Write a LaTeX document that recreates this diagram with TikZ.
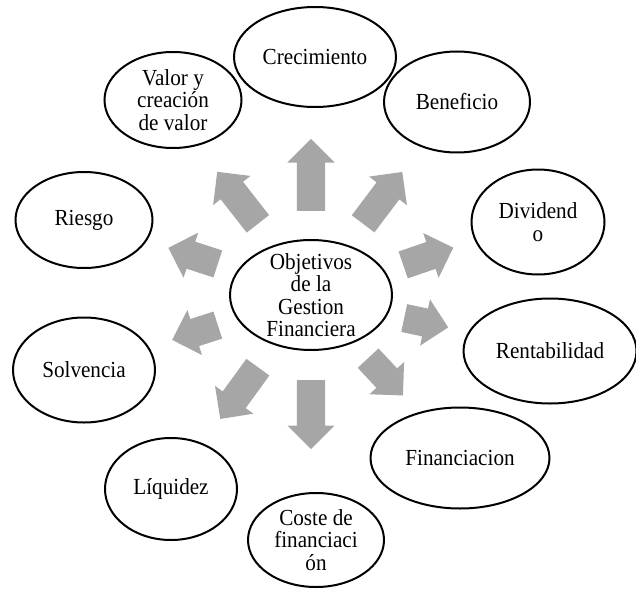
\documentclass[tikz,border=0pt]{standalone}
\usepackage{fontspec}
\setmainfont{Liberation Serif}[FakeStretch=0.92]
\usetikzlibrary{shapes.geometric,shapes.arrows}
\definecolor{gris}{HTML}{A6A6A6}

\begin{document}
\begin{tikzpicture}[x=1pt, y=-1pt,
  elipse/.style 2 args={ellipse, draw, line width=2pt, inner sep=0pt, minimum width=#1, minimum height=#2},
  texto/.style={align=center, font=\fontsize{23}{22.5}\selectfont},
  bloque/.style={single arrow, fill=gris, inner xsep=0pt, inner ysep=14pt, anchor=tail,
    single arrow head extend=9.5pt, single arrow tip angle=90}]
  \useasboundingbox (0,0) rectangle (636,588);
  % objetivo central
  \node[elipse={162}{110}, label={[texto]center:Objetivos\\de la\\Gestion\\Financiera}] (obj) at (311,295) {};
  % objetivos alrededor
  \node[elipse={162}{100}, label={[texto]center:Crecimiento}] (crec) at (315,57) {};
  \node[elipse={146}{101}, label={[texto]center:Beneficio}] (bene) at (457,102) {};
  \node[elipse={133}{105}, label={[texto]center:Dividend\\o}] (divi) at (538,222) {};
  \node[elipse={173}{105}, label={[texto]center:Rentabilidad}] (rent) at (550,351) {};
  \node[elipse={179}{101}, label={[texto]center:Financiacion}] (fina) at (460,458) {};
  \node[elipse={136}{94}, label={[texto]center:Coste de\\financiaci\\ón}] (cost) at (316,540) {};
  \node[elipse={132}{102}, label={[texto]center:Líquidez}] (liqu) at (171,489) {};
  \node[elipse={142}{105}, label={[texto]center:Solvencia}] (solv) at (84,370) {};
  \node[elipse={137}{96}, label={[texto]center:Riesgo}] (ries) at (84,220) {};
  \node[elipse={137}{96}, label={[texto]center:Valor y\\creación\\de valor}] (valo) at (173,100) {};
  % flechas grises (desde la base)
  \foreach \n/\x/\y/\a/\l in {1/311/211/90/72, 2/363/224/53/65, 3/403/265/19/53,
      4/404/318/-12/45, 5/368/358/-47/51, 6/311/380/-90/69, 7/258/367/234/64,
      8/218/325/198/48, 9/218/264/162/52, 10/258/224/128/66}{
    \node[bloque, rotate=\a, minimum height=\l] (fl\n) at (\x,\y) {};
  }
\end{tikzpicture}
\end{document}
